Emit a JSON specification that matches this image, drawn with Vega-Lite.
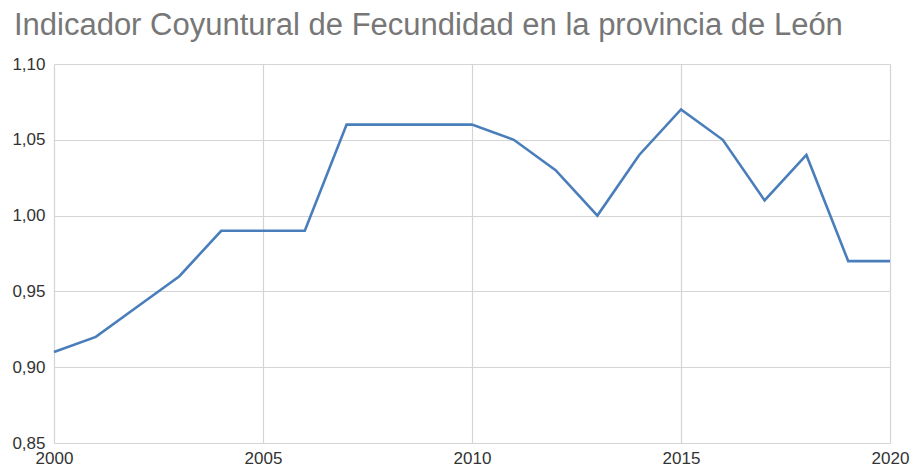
{
  "$schema": "https://vega.github.io/schema/vega-lite/v6.json",
  "autosize": "none",
  "width": 836,
  "height": 379,
  "padding": {"left": 54, "top": 64, "right": 23, "bottom": 25},
  "background": "white",
  "title": {
    "text": "Indicador Coyuntural de Fecundidad en la provincia de León",
    "anchor": "start",
    "font": "Liberation Sans",
    "fontSize": 31,
    "fontWeight": "normal",
    "color": "#777777",
    "baseline": "alphabetic",
    "dx": 2,
    "offset": -11
  },
  "config": {
    "locale": {"number": {"decimal": ",", "thousands": ".", "grouping": [3], "currency": ["", " €"]}},
    "view": {"stroke": null},
    "axis": {
      "labelFont": "Liberation Sans",
      "labelFontSize": 17,
      "labelColor": "#333333",
      "gridColor": "#d4d4d4",
      "gridWidth": 1.2,
      "domain": false,
      "ticks": false,
      "title": null
    }
  },
  "data": {
    "values": [
      {"year": 2000, "icf": 0.91},
      {"year": 2001, "icf": 0.92},
      {"year": 2002, "icf": 0.94},
      {"year": 2003, "icf": 0.96},
      {"year": 2004, "icf": 0.99},
      {"year": 2005, "icf": 0.99},
      {"year": 2006, "icf": 0.99},
      {"year": 2007, "icf": 1.06},
      {"year": 2008, "icf": 1.06},
      {"year": 2009, "icf": 1.06},
      {"year": 2010, "icf": 1.06},
      {"year": 2011, "icf": 1.05},
      {"year": 2012, "icf": 1.03},
      {"year": 2013, "icf": 1.00},
      {"year": 2014, "icf": 1.04},
      {"year": 2015, "icf": 1.07},
      {"year": 2016, "icf": 1.05},
      {"year": 2017, "icf": 1.01},
      {"year": 2018, "icf": 1.04},
      {"year": 2019, "icf": 0.97},
      {"year": 2020, "icf": 0.97}
    ]
  },
  "mark": {"type": "line", "color": "#4a7ebb", "strokeWidth": 2.6},
  "encoding": {
    "x": {
      "field": "year",
      "type": "quantitative",
      "scale": {"domain": [2000, 2020], "nice": false, "zero": false},
      "axis": {"values": [2000, 2005, 2010, 2015, 2020], "format": "d", "labelPadding": 7, "labelFlush": false}
    },
    "y": {
      "field": "icf",
      "type": "quantitative",
      "scale": {"domain": [0.85, 1.1], "nice": false, "zero": false},
      "axis": {"values": [0.85, 0.9, 0.95, 1.0, 1.05, 1.1], "format": ".2f", "labelPadding": 9}
    }
  }
}
